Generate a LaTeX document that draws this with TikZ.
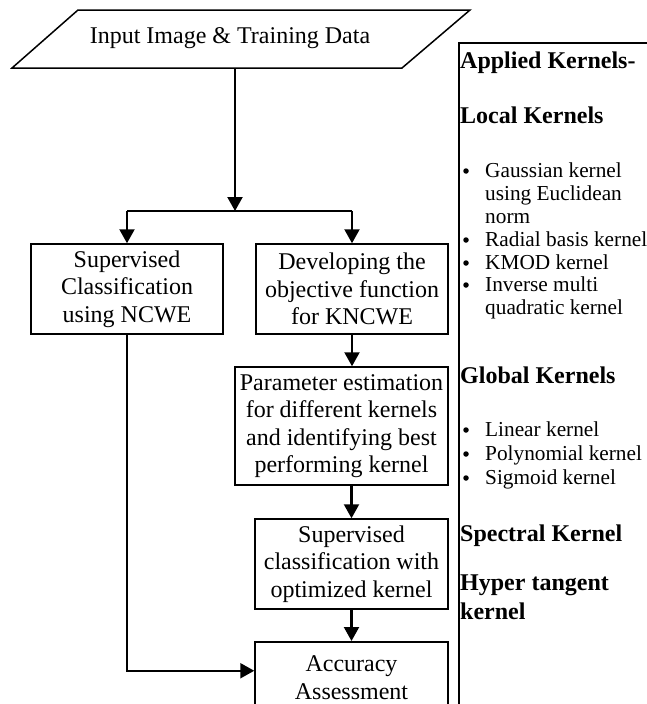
\documentclass[tikz,border=0pt]{standalone}
\usepackage{fontspec}
\setmainfont{Liberation Serif}
\usetikzlibrary{arrows.meta}
\tikzset{
 fbox/.style={draw, line width=1.5pt, align=center, font=\fontsize{24}{27.5}\selectfont, inner sep=2pt},
 flow/.style={line width=2.2pt, -{Triangle[width=15pt,length=14pt]}},
 plainline/.style={line width=2.2pt},
 head/.style={anchor=base west, font=\fontsize{24}{28}\selectfont\bfseries, inner sep=0pt},
 itemtxt/.style={anchor=base west, font=\fontsize{21.3}{23}\selectfont, inner sep=0pt},
 bul/.style={circle, fill=black, inner sep=0pt, minimum size=5.5pt},
}
\begin{document}
\begin{tikzpicture}[x=1pt,y=-1pt]
\clip (0,0) rectangle (647,704);
\fill[white] (0,0) rectangle (647,704);
% input parallelogram
\coordinate (p1) at (78,10);
\coordinate (p2) at (470,10);
\coordinate (p3) at (402,68);
\coordinate (p4) at (12,68);
\draw[line width=1.5pt, line join=miter] (p1)--(p2)--(p3)--(p4)--cycle;
\node[font=\fontsize{24}{27.5}\selectfont, inner sep=0pt] (inp) at (230,38) {Input Image \& Training Data};
\coordinate (inb) at (235,68);
\coordinate (j) at (235,211);
% boxes
\node[fbox, minimum width=192pt, minimum height=90pt] (ncwe) at (127,289) {Supervised\\Classification\\using NCWE};
\node[fbox, minimum width=192pt, minimum height=90pt] (dev) at (352,289) {Developing the\\objective function\\for KNCWE};
\node[fbox, minimum width=213pt, minimum height=118pt] (param) at (341.5,426) {Parameter estimation\\for different kernels\\and identifying best\\performing kernel};
\node[fbox, minimum width=193pt, minimum height=90pt] (sc) at (351.5,564) {Supervised\\classification with\\optimized kernel};
\node[fbox, minimum width=193pt, minimum height=72pt, anchor=north] (acc) at (351.5,641) {Accuracy\\Assessment};
% connectors
\draw[flow] (inb) -- (j);
\draw[plainline] (ncwe.north |- j) -- (dev.north |- j);
\draw[flow] (ncwe.north |- j) -- (ncwe.north);
\draw[flow] (dev.north |- j) -- (dev.north);
\draw[flow] (dev.south) -- (dev.south |- param.north);
\draw[flow] (param.south -| sc.north) -- (sc.north);
\draw[flow] (sc.south) -- (acc.north);
\draw[flow] (ncwe.south) |- ([yshift=7pt]acc.west);
% right panel
\coordinate (pa) at (459,720);
\coordinate (pb) at (459,43);
\coordinate (pc) at (660,43);
\draw[line width=1.5pt] (pa) -- (pb) -- (pc);
\node[head] (h1) at (460,68) {Applied Kernels-};
\node[head] (h2) at (460,123) {Local Kernels};
\node[bul] (b1) at (466,171) {};
\node[itemtxt] (t1) at (485,177) {Gaussian kernel};
\node[itemtxt] (t1b) at (485,200) {using Euclidean};
\node[itemtxt] (t1c) at (485,223) {norm};
\node[bul] (b2) at (466,240) {};
\node[itemtxt] (t2) at (485,246) {Radial basis kernel};
\node[bul] (b3) at (466,263) {};
\node[itemtxt] (t3) at (485,269) {KMOD kernel};
\node[bul] (b4) at (466,285) {};
\node[itemtxt] (t4) at (485,291) {Inverse multi};
\node[itemtxt] (t4b) at (485,314) {quadratic kernel};
\node[head] (h3) at (460,383) {Global Kernels};
\node[bul] (b5) at (466,430) {};
\node[itemtxt] (t5) at (485,436) {Linear kernel};
\node[bul] (b6) at (466,454) {};
\node[itemtxt] (t6) at (485,460) {Polynomial kernel};
\node[bul] (b7) at (466,478) {};
\node[itemtxt] (t7) at (485,484) {Sigmoid kernel};
\node[head] (h4) at (460,541) {Spectral Kernel};
\node[head] (h5) at (460,590) {Hyper tangent};
\node[head] (h6) at (460,619) {kernel};
\end{tikzpicture}
\end{document}
